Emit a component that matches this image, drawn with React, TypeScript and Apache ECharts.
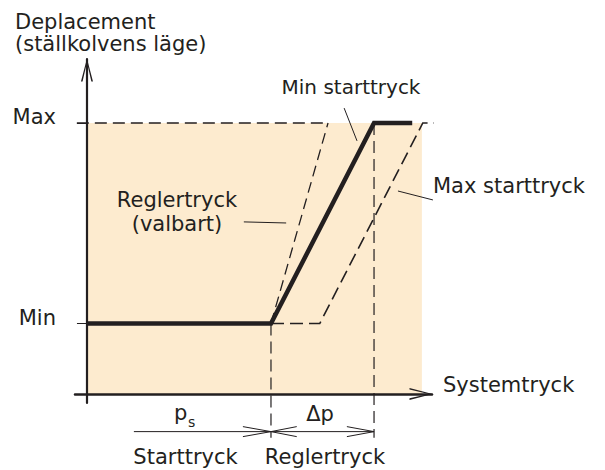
import React, { useEffect, useRef } from "react";
import * as echarts from "echarts";

// ---- data (schematic units: x = system pressure, y = displacement) ----
const yTickValues = [26, 100];
const yTickLabels = ["Min", "Max"];

const shadedRegion = [[0, 100], [72.8, 100]];
const maxReferenceLine = [[-2.2, 100], [52.4, 100]];
const reglertryckValbart = [[40, 26], [52.4, 100]];
const minStarttryckCurve = [[0, 26], [40, 26], [62.4, 100], [70.7, 100]];
const maxStarttryckCurve = [[40, 26], [50.6, 26], [73, 100], [76, 100]];
const psGuide = [[40, 26], [40, -16.2]];
const dpGuide = [[62.4, 100], [62.4, -16.2]];
const dimensionLine = [[10.2, -13.9], [62.4, -13.9]];
const arrowPsEnd = [[33.9, -12.05], [40, -13.9], [33.9, -15.75]];
const arrowDpStart = [[45.6, -12.05], [40, -13.9], [45.6, -15.75]];
const arrowDpEnd = [[56.5, -12.05], [62.4, -13.9], [56.5, -15.75]];
const leaderMinStart = [[55.9, 105.5], [58.7, 93.4]];
const leaderMaxStart = [[67.6, 74.9], [75.2, 71.6]];
const leaderRegler = [[34.1, 63.5], [43.3, 63.1]];

const INK = "#231f20";
const FONT = '"DejaVu Sans", sans-serif';
const ARROW = "path://M6,0 L12,23 L10.4,23 L6,4 L1.6,23 L0,23 Z";

function lineSeries(data: number[][], width: number, dashed: number[] | null, z = 3) {
  return {
    type: "line",
    data,
    symbol: "none",
    clip: false,
    silent: true,
    z,
    lineStyle: { color: INK, width, type: dashed ? dashed : "solid", cap: "butt", join: "miter" },
  };
}

function txt(text: string, x: number, y: number, size: number, align = "left") {
  return {
    type: "text",
    silent: true,
    style: {
      text,
      x,
      y,
      fill: INK,
      font: `${size}px ${FONT}`,
      fontSize: size,
      fontFamily: FONT,
      align,
      textAlign: align,
      verticalAlign: "middle",
      textVerticalAlign: "middle",
    },
  };
}

export default function App() {
  const ref = useRef<HTMLDivElement>(null);
  useEffect(() => {
    if (!ref.current) return;
    const chart = echarts.init(ref.current, null, { renderer: "svg" });
    chart.setOption({
      animation: false,
      backgroundColor: "#ffffff",
      grid: { left: 75, right: 173, top: 59.04, bottom: 67.1, containLabel: false },
      xAxis: {
        type: "value",
        min: -2.6,
        max: 75,
        axisLine: {
          onZero: true,
          symbol: ["none", ARROW],
          symbolSize: [12, 23],
          symbolOffset: [0, -11],
          lineStyle: { color: INK, width: 2.5 },
        },
        axisTick: { show: false },
        axisLabel: { show: false },
        splitLine: { show: false },
      },
      yAxis: {
        type: "value",
        min: -3.3,
        max: 123.6,
        axisLine: {
          onZero: true,
          symbol: ["none", ARROW],
          symbolSize: [12, 23],
          symbolOffset: [0, -11],
          lineStyle: { color: INK, width: 2.2 },
        },
        axisTick: {
          show: true,
          customValues: yTickValues,
          length: 10,
          lineStyle: { color: INK, width: 1 },
        },
        axisLabel: {
          show: true,
          customValues: yTickValues,
          margin: 19,
          color: INK,
          fontFamily: FONT,
          fontSize: 21,
          verticalAlign: "bottom",
          lineHeight: 11,
          formatter: (v: number) => {
            const i = yTickValues.indexOf(v);
            return i >= 0 ? yTickLabels[i] : "";
          },
        },
        splitLine: { show: false },
      },
      series: [
        {
          type: "line",
          data: shadedRegion,
          symbol: "none",
          silent: true,
          z: -1,
          lineStyle: { width: 0 },
          areaStyle: { color: "#fdebcf", opacity: 1 },
        },
        lineSeries(maxReferenceLine, 1.3, [12, 6]),
        lineSeries(reglertryckValbart, 1.3, [11, 6]),
        lineSeries(maxStarttryckCurve, 1.6, [13, 6]),
        lineSeries(psGuide, 1.2, [12, 6]),
        lineSeries(dpGuide, 1.2, [12, 6]),
        lineSeries(dimensionLine, 1, null),
        lineSeries(arrowPsEnd, 1, null),
        lineSeries(arrowDpStart, 1, null),
        lineSeries(arrowDpEnd, 1, null),
        lineSeries(leaderMinStart, 1, null),
        lineSeries(leaderMaxStart, 1, null),
        lineSeries(leaderRegler, 1, null),
        lineSeries(minStarttryckCurve, 4.5, null, 5),
      ],
      graphic: [
        txt("Deplacement", 15, 21.5, 21),
        txt("(ställkolvens läge)", 15, 43.5, 21),
        txt("Min starttryck", 351, 87, 20, "center"),
        txt("Max starttryck", 433, 186, 21),
        txt("Reglertryck", 177, 200, 21, "center"),
        txt("(valbart)", 177, 224, 21, "center"),
        txt("Systemtryck", 443, 385, 21),
        txt("p", 174, 412.5, 21),
        txt("s", 188, 422, 14),
        txt("Δp", 320, 413.5, 21, "center"),
        txt("Starttryck", 185.5, 456.7, 21, "center"),
        txt("Reglertryck", 325, 456.7, 21, "center"),
      ],
    });
    return () => chart.dispose();
  }, []);
  return (
    <div
      ref={ref}
      style={{ position: "fixed", left: 0, top: 0, width: 605, height: 470 }}
    />
  );
}
